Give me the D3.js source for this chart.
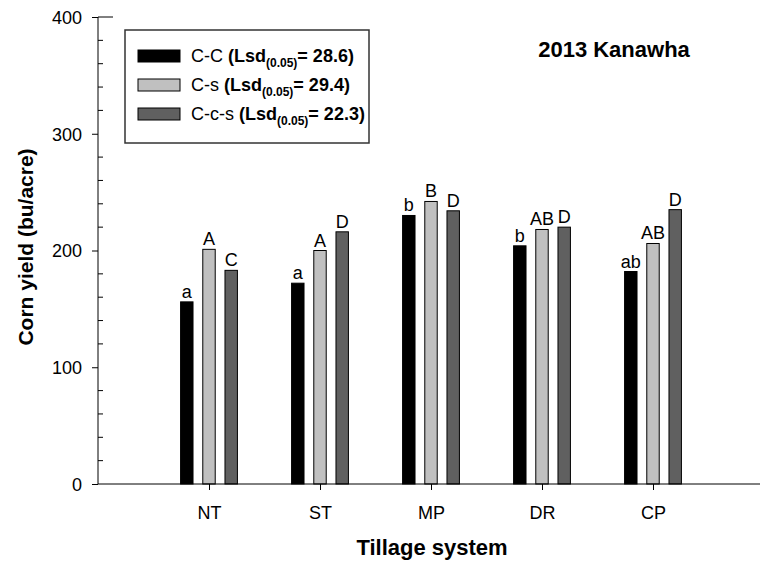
<!DOCTYPE html>
<html>
<head>
<meta charset="utf-8">
<script src="https://cdn.jsdelivr.net/npm/d3@7"></script>
<style>
  body { margin: 0; background: #fff; }
  text { font-family: Arial, "Liberation Sans", sans-serif; fill: #000; }
</style>
</head>
<body>
<script>
const width = 760
const height = 561

const tillage = ["NT", "ST", "MP", "DR", "CP"]
const series = ["C-C", "C-s", "C-c-s"]
const lsd = ["28.6", "29.4", "22.3"]
const colors = ["#000000", "#c0c0c0", "#606060"]

const yieldCC = [156, 172, 230, 204, 182]
const yieldCs = [201, 200, 242, 218, 206]
const yieldCcs = [183, 216, 234, 220, 235]

const letterCC = ["a", "a", "b", "b", "ab"]
const letterCs = ["A", "A", "B", "AB", "AB"]
const letterCcs = ["C", "D", "D", "D", "D"]

const yTicks = [0, 100, 200, 300, 400]

const values = [yieldCC, yieldCs, yieldCcs]
const letters = [letterCC, letterCs, letterCcs]

const plotLeft = 98, plotBottom = 484, plotTop = 17

var svg = d3.select("body").append("svg")
    .attr("width", width)
    .attr("height", height)

// x is a position scale: category i sits at i+1, axis runs 0..6
var x = d3.scaleLinear().domain([0, 6]).range([plotLeft, 764])
var y = d3.scaleLinear().domain([0, 400]).range([plotBottom, plotTop])

const offset = 0.2
const barW = 0.112

// bars
series.forEach(function(s, si) {
  var g = svg.append("g")
  g.selectAll("rect")
    .data(values[si])
    .enter().append("rect")
    .attr("x", (d, i) => x(i + 1 + (si - 1) * offset - barW / 2))
    .attr("y", d => y(d))
    .attr("width", x(barW) - x(0))
    .attr("height", d => y(0) - y(d))
    .style("fill", colors[si])
    .style("stroke", "#000")
    .style("stroke-width", 1)

  g.selectAll("text")
    .data(values[si])
    .enter().append("text")
    .attr("x", (d, i) => x(i + 1 + (si - 1) * offset))
    .attr("y", d => y(d) - 4)
    .attr("text-anchor", "middle")
    .style("font-size", "18px")
    .text((d, i) => letters[si][i])
})

// y axis with minor ticks
var yAxis = svg.append("g").attr("transform", "translate(" + plotLeft + ",0)")
yAxis.call(d3.axisLeft(y).tickValues(yTicks).tickSize(6).tickPadding(10))
yAxis.select(".domain").attr("d", "M0," + plotTop + "V" + plotBottom)
yAxis.selectAll("text").style("font-size", "18px").attr("dy", "0.35em")
yAxis.selectAll("line").style("stroke", "#000")
yAxis.select(".domain").style("stroke", "#000")

var minor = d3.range(20, 400, 20).filter(v => v % 100 != 0)
svg.append("g").selectAll("line")
  .data(minor)
  .enter().append("line")
  .attr("x1", plotLeft).attr("x2", plotLeft + 5)
  .attr("y1", d => y(d)).attr("y2", d => y(d))
  .style("stroke", "#000")

// small top stub
svg.append("line")
  .attr("x1", plotLeft).attr("x2", plotLeft + 15)
  .attr("y1", y(400)).attr("y2", y(400))
  .style("stroke", "#000")

// x axis
var xAxis = svg.append("g").attr("transform", "translate(0," + plotBottom + ")")
xAxis.call(d3.axisBottom(x).tickValues([1, 2, 3, 4, 5]).tickSize(6).tickPadding(16)
  .tickFormat(d => tillage[d - 1]))
xAxis.select(".domain").attr("d", "M" + plotLeft + ",0H" + 764).style("stroke", "#000")
xAxis.selectAll("line").style("stroke", "#000")
xAxis.selectAll("text").style("font-size", "18px")

// axis titles
svg.append("text")
  .attr("transform", "translate(33,247) rotate(-90)")
  .attr("text-anchor", "middle")
  .style("font-size", "21px")
  .style("font-weight", "bold")
  .text("Corn yield (bu/acre)")

svg.append("text")
  .attr("x", 432).attr("y", 555)
  .attr("text-anchor", "middle")
  .style("font-size", "22px")
  .style("font-weight", "bold")
  .text("Tillage system")

svg.append("text")
  .attr("x", 614).attr("y", 57)
  .attr("text-anchor", "middle")
  .style("font-size", "22px")
  .style("font-weight", "bold")
  .text("2013 Kanawha")

// legend
svg.append("rect")
  .attr("x", 125).attr("y", 30)
  .attr("width", 244).attr("height", 113)
  .style("fill", "#fff")
  .style("stroke", "#333")
  .style("stroke-width", 1.5)

series.forEach(function(s, si) {
  var ly = 50 + si * 29
  svg.append("rect")
    .attr("x", 138).attr("y", ly)
    .attr("width", 42).attr("height", 12)
    .style("fill", colors[si])
    .style("stroke", "#000")
  var t = svg.append("text")
    .attr("x", 191).attr("y", ly + 12)
    .style("font-size", "18px")
  t.append("tspan").text(s + " ")
  t.append("tspan").style("font-weight", "bold").text("(Lsd")
  t.append("tspan").style("font-weight", "bold").style("font-size", "12px")
    .attr("dy", 5).text("(0.05)")
  t.append("tspan").style("font-weight", "bold").attr("dy", -5).text("= " + lsd[si] + ")")
})
</script>
</body>
</html>
